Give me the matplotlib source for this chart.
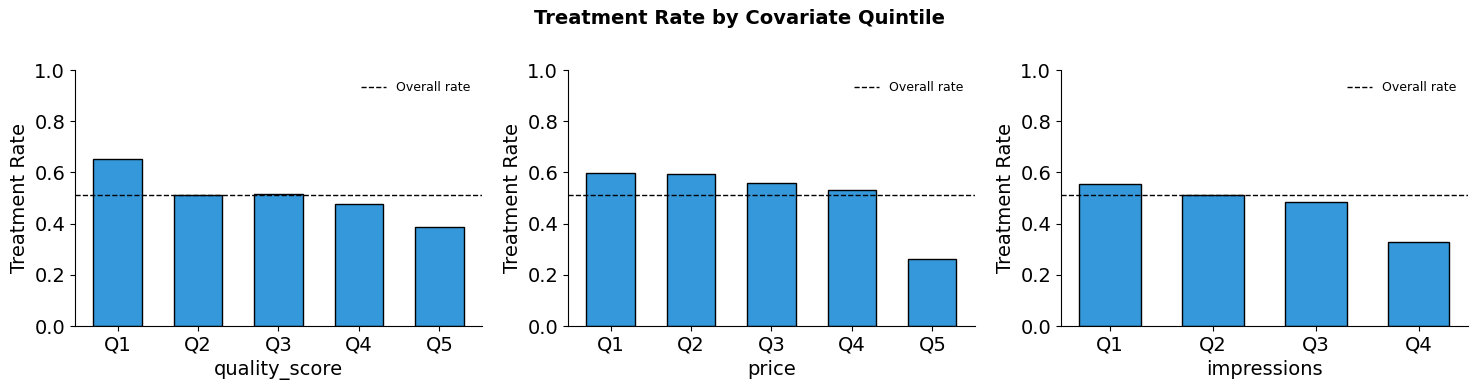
import matplotlib.pyplot as plt
import numpy as np

# Data
covariates = ["quality_score", "price", "impressions"]
quality_labels = ["Q1", "Q2", "Q3", "Q4", "Q5"]
quality_rates = [0.654, 0.510, 0.517, 0.475, 0.385]
price_labels = ["Q1", "Q2", "Q3", "Q4", "Q5"]
price_rates = [0.599, 0.592, 0.560, 0.530, 0.263]
impressions_labels = ["Q1", "Q2", "Q3", "Q4"]
impressions_rates = [0.553, 0.513, 0.486, 0.327]
overall_rate = 0.510

labels_list = [quality_labels, price_labels, impressions_labels]
rates_list = [quality_rates, price_rates, impressions_rates]

fig, axes = plt.subplots(1, 3, figsize=(14.78, 3.9), dpi=100)
fig.subplots_adjust(left=0.0507, right=0.9932, top=0.8205, bottom=0.1641,
                    wspace=0.211)

for ax, name, labels, rates in zip(axes, covariates, labels_list, rates_list):
    x = np.arange(len(labels))
    ax.bar(x, rates, width=0.6, color="#3498db", edgecolor="black",
           linewidth=1)
    ax.axhline(overall_rate, color="black", linestyle="--", linewidth=1,
               label="Overall rate")
    ax.set_xticks(x)
    ax.set_xticklabels(labels, fontsize=14)
    ax.tick_params(axis="y", labelsize=14)
    ax.set_ylim(0, 1.0)
    ax.set_xlabel(name, fontsize=14)
    ax.set_ylabel("Treatment Rate", fontsize=14)
    ax.spines["top"].set_visible(False)
    ax.spines["right"].set_visible(False)
    ax.legend(frameon=False, fontsize=9, loc="upper right")

fig.suptitle("Treatment Rate by Covariate Quintile", fontsize=14,
             fontweight="bold", y=0.977)

fig.savefig("out.png", dpi=100)
